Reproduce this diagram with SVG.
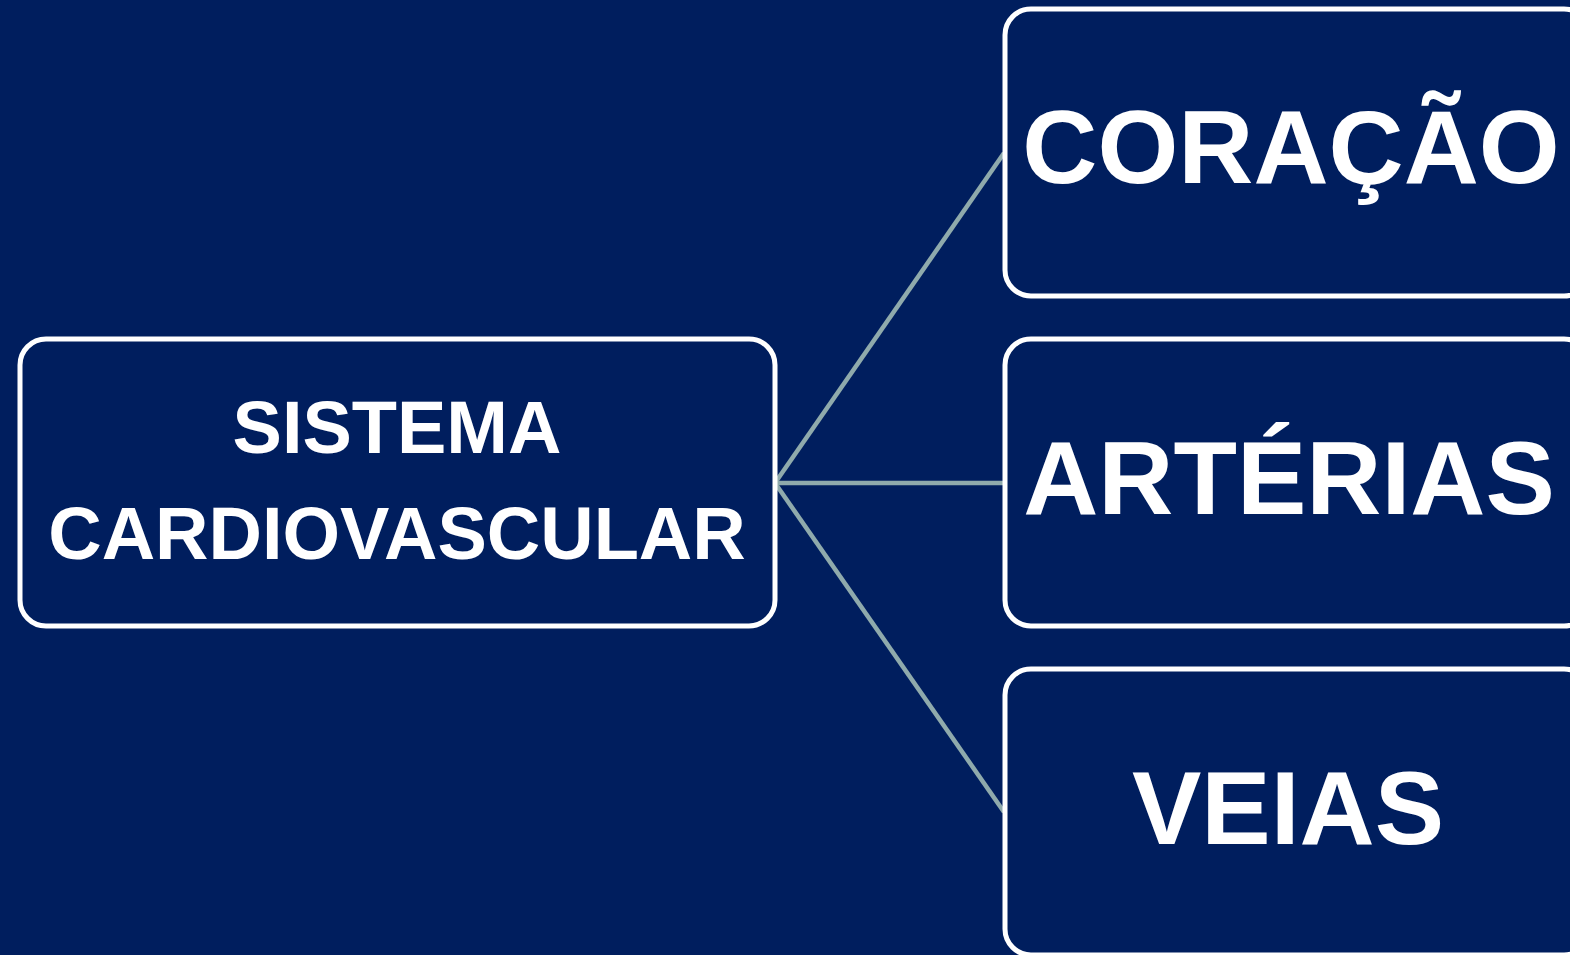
<svg xmlns="http://www.w3.org/2000/svg" width="1570" height="955" viewBox="0 0 1570 955">
<style>
.box{fill:#001E5E;stroke:#FFFFFF;stroke-width:5}
.t{font-family:"Liberation Sans",Arial,sans-serif;font-weight:bold;fill:#FFFFFF;text-anchor:middle}
.c{stroke:#8FAAAC;stroke-width:4.5;fill:none}
</style>
<rect width="1570" height="955" fill="#001E5E"/>
<g id="connectors">
<line class="c" x1="775" y1="483" x2="1004" y2="153"/>
<line class="c" x1="775" y1="483" x2="1004" y2="483"/>
<line class="c" x1="775" y1="483" x2="1004" y2="812"/>
</g>
<g id="node-sistema">
<rect class="box" x="20" y="339" width="755" height="287" rx="26"/>
<text class="t" x="397" y="453" font-size="74">SISTEMA</text>
<text class="t" x="397" y="559" font-size="74">CARDIOVASCULAR</text>
</g>
<g id="node-coracao">
<rect class="box" x="1005" y="9" width="585" height="287" rx="26"/>
<text class="t" x="1291" y="183" font-size="104">CORAÇÃO</text>
</g>
<g id="node-arterias">
<rect class="box" x="1005" y="339" width="585" height="287" rx="26"/>
<text class="t" x="1289" y="514" font-size="104">ARTÉRIAS</text>
</g>
<g id="node-veias">
<rect class="box" x="1005" y="669" width="585" height="286" rx="26"/>
<text class="t" x="1288" y="844" font-size="104">VEIAS</text>
</g>
</svg>
